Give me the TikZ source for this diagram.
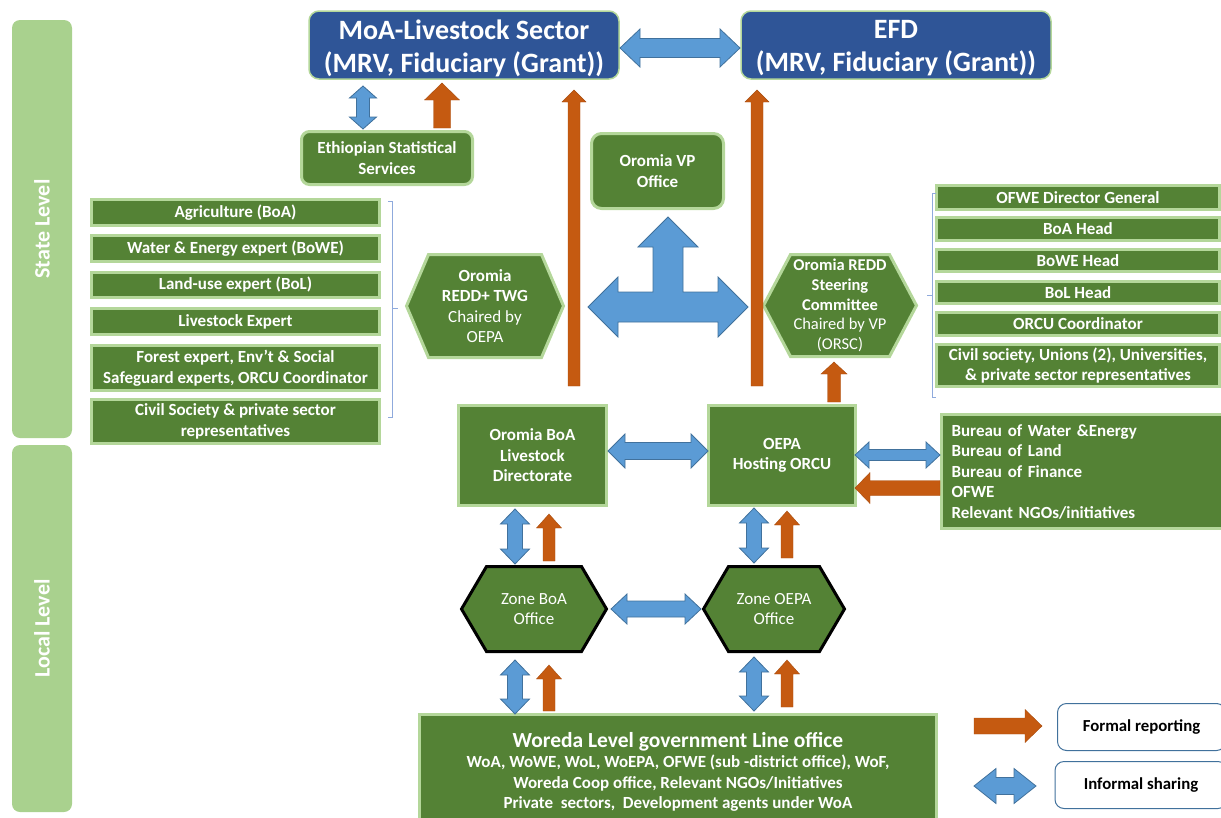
\documentclass[tikz,border=0pt]{standalone}
\usepackage{fontspec}
\setmainfont{Carlito}
\usetikzlibrary{calc}
\definecolor{dgreen}{HTML}{548235}
\definecolor{lgreen}{HTML}{B4D79A}
\definecolor{lvlgreen}{HTML}{A9D18E}
\definecolor{dblue}{HTML}{2F5597}
\definecolor{ablue}{HTML}{5B9BD5}
\definecolor{ablueline}{HTML}{41719C}
\definecolor{aorange}{HTML}{C55A11}
\definecolor{brk}{HTML}{8FAADC}
% single block arrow: style, from, to, shaft half width, head half width, head length
\newcommand\sarrow[6]{%
 \path[#1] let \p1=(#2), \p2=(#3), \n1={atan2(\y2-\y1,\x2-\x1)}, \n2={veclen(\x2-\x1,\y2-\y1)} in
 [shift={(\p1)}, rotate=\n1]
 (0pt,{-(#4)*1pt}) -- ({(\n2-(#6))*1pt},{-(#4)*1pt}) -- ({(\n2-(#6))*1pt},{-(#5)*1pt}) -- ({\n2*1pt},0pt)
 -- ({(\n2-(#6))*1pt},{(#5)*1pt}) -- ({(\n2-(#6))*1pt},{(#4)*1pt}) -- (0pt,{(#4)*1pt}) -- cycle;}
% double block arrow
\newcommand\darrow[6]{%
 \path[#1] let \p1=(#2), \p2=(#3), \n1={atan2(\y2-\y1,\x2-\x1)}, \n2={veclen(\x2-\x1,\y2-\y1)} in
 [shift={(\p1)}, rotate=\n1]
 (0pt,0pt) -- ({(#6)*1pt},{-(#5)*1pt}) -- ({(#6)*1pt},{-(#4)*1pt}) -- ({(\n2-(#6))*1pt},{-(#4)*1pt})
 -- ({(\n2-(#6))*1pt},{-(#5)*1pt}) -- ({\n2*1pt},0pt) -- ({(\n2-(#6))*1pt},{(#5)*1pt})
 -- ({(\n2-(#6))*1pt},{(#4)*1pt}) -- ({(#6)*1pt},{(#4)*1pt}) -- ({(#6)*1pt},{(#5)*1pt}) -- cycle;}
% hexagon: style, cx, cy, half width, half height, inset
\newcommand\hexshape[6]{%
 \draw[#1] (#2-#4,#3) -- (#2-#4+#6,#3-#5) -- (#2+#4-#6,#3-#5) -- (#2+#4,#3)
 -- (#2+#4-#6,#3+#5) -- (#2-#4+#6,#3+#5) -- cycle;}
\begin{document}
\begin{tikzpicture}[x=1pt,y=-1pt,
 gbox/.style={draw=lgreen, line width=3pt, fill=dgreen, text=white,
   font=\bfseries\fontsize{17}{20.5}\selectfont, align=center, inner sep=0pt},
 bbox/.style={draw=lgreen, line width=1.5pt, fill=dblue, rounded corners=10pt, inner sep=0pt,
   minimum width=310pt, minimum height=68pt},
 btext/.style={text=white, font=\bfseries\fontsize{28}{33}\selectfont, align=center, inner sep=0pt},
 listL/.style={gbox, minimum width=288pt},
 listR/.style={gbox, minimum width=283pt},
 hexg/.style={draw=lgreen, line width=3pt, fill=dgreen, line join=miter},
 hexz/.style={draw=black, line width=3pt, fill=dgreen, line join=miter},
 hext/.style={text=white, align=center, font=\fontsize{17}{20.5}\selectfont, inner sep=0pt},
 lvl/.style={fill=lvlgreen, rounded corners=8pt, text=white, font=\bfseries\fontsize{22}{24}\selectfont,
   inner sep=0pt},
 barb/.style={fill=ablue, draw=ablueline, line width=0.8pt, line join=miter},
 baro/.style={fill=aorange, draw=aorange!85!black, line width=0.4pt, line join=miter},
 legbox/.style={draw=ablueline, line width=1pt, rounded corners=9pt, fill=white,
   font=\bfseries\fontsize{16.8}{19}\selectfont, inner sep=0pt},
 brkline/.style={draw=brk, line width=0.8pt}
]
\useasboundingbox (0,0) rectangle (1221,817);
\clip (0,0) rectangle (1221,817);

% level bars
\node[lvl, rotate=90, minimum width=418pt, minimum height=60pt] (state) at (42,229) {State Level};
\node[lvl, rotate=90, minimum width=367pt, minimum height=60pt] (local) at (42,628.5) {Local Level};

% top boxes
\node[bbox] (moa) at (464,45) {};
\node[btext] (moatext) at (464,48) {MoA-Livestock Sector\\(MRV, Fiduciary (Grant))};
\node[bbox] (efd) at (896,45) {};
\node[btext] (efdtext) at (896,48) {EFD\\(MRV, Fiduciary (Grant))};

\node[gbox, rounded corners=8pt, minimum width=171pt, minimum height=53pt] (ess) at (387,158)
  {Ethiopian Statistical\\Services};
\node[gbox, rounded corners=10pt, minimum width=132pt, minimum height=75pt] (vp) at (657.5,171)
  {Oromia VP\\Office};

% left list
\node[listL, minimum height=26pt] (agr) at (235.5,212.5) {Agriculture (BoA)};
\node[listL, minimum height=26pt] (wat) at (235.5,248.5) {Water \& Energy expert (BoWE)};
\node[listL, minimum height=25pt] (lan) at (235.5,285) {Land-use expert (BoL)};
\node[listL, minimum height=26pt] (liv) at (235.5,321.5) {Livestock Expert};
\node[listL, minimum height=45pt] (for) at (235.5,368) {Forest expert, Env’t \& Social\\Safeguard experts, ORCU Coordinator};
\node[listL, minimum height=44pt] (civl) at (235.5,421.5) {Civil Society \& private sector\\representatives};
\draw[brkline] (388,201) -- (392,201) -- (392,417) -- (388,417);
\draw[brkline] (392,308) -- (398,308);

% right list
\node[listR, minimum height=24pt] (ofwe) at (1078,197.5) {OFWE Director General};
\node[listR, minimum height=23pt] (boah) at (1078,229) {BoA Head};
\node[listR, minimum height=22pt] (bowe) at (1078,260.5) {BoWE Head};
\node[listR, minimum height=22pt] (bolh) at (1078,292.5) {BoL Head};
\node[listR, minimum height=23pt] (orcu) at (1078,324) {ORCU Coordinator};
\node[listR, minimum height=42pt] (civr) at (1078,365.5) {Civil society, Unions (2), Universities,\\\& private sector representatives};
\draw[brkline] (936,193) -- (932,193) -- (932,397) -- (936,397);
\draw[brkline] (932,295) -- (927,295);

% hexagons
\hexshape{hexg}{485}{306}{78.5}{51.5}{22}
\node[hext] (twg) at (485,306) {\textbf{Oromia}\\\textbf{REDD+ TWG}\\Chaired by\\OEPA};
\hexshape{hexg}{840}{305.5}{76.5}{51}{27}
\node[hext, font=\fontsize{16.5}{19.7}\selectfont] (orsc) at (840,305.5)
  {\textbf{Oromia REDD}\\\textbf{Steering}\\\textbf{Committee}\\Chaired by VP\\(ORSC)};

% middle boxes
\node[gbox, minimum width=148pt, minimum height=100pt] (boadir) at (532.5,455.5)
  {Oromia BoA\\Livestock\\Directorate};
\node[gbox, minimum width=147pt, minimum height=100pt] (oepa) at (782,455.5)
  {OEPA\\Hosting ORCU};
\node[gbox, minimum width=281pt, minimum height=114pt, align=left, text width=261pt, inner xsep=10pt]
  (bur) at (1082,471.5)
  {Bureau of Water \&Energy\\Bureau of Land\\Bureau of Finance\\OFWE\\Relevant NGOs/initiatives};

% zone hexagons
\hexshape{hexz}{534}{609}{72.5}{42.5}{25}
\node[hext] (zboa) at (534,609) {Zone BoA\\Office};
\hexshape{hexz}{774}{609}{70.5}{42.5}{25}
\node[hext] (zoepa) at (774,609) {Zone OEPA\\Office};

% woreda
\node[gbox, minimum width=517pt, minimum height=116pt, font=\bfseries\fontsize{17}{20.5}\selectfont]
  (wor) at (678,772)
  {{\fontsize{21.5}{22}\selectfont Woreda Level government Line office}\\
   WoA, WoWE, WoL, WoEPA, OFWE (sub -district office), WoF,\\
   Woreda Coop office, Relevant NGOs/Initiatives\\
   Private\ \ sectors,\ \ Development agents under WoA};

% legend
\node[legbox, minimum width=168pt, minimum height=47pt] (lformal) at (1141.5,727) {Formal reporting};
\node[legbox, minimum width=172pt, minimum height=47pt] (linformal) at (1141,785) {Informal sharing};

% ---- arrows ----
\coordinate (moaR) at (620,48);
\coordinate (efdL) at (740,48);
\darrow{barb}{moaR}{efdL}{9.5}{19}{20}

\coordinate (essB1) at (363,129);
\coordinate (moaB1) at (363,86);
\darrow{barb}{essB1}{moaB1}{6.5}{13.5}{12}
\coordinate (essO) at (442,128);
\coordinate (moaO) at (442,83);
\sarrow{baro}{essO}{moaO}{8.5}{17.5}{17}

\coordinate (l1s) at (574,386);
\coordinate (l1e) at (574,90);
\sarrow{baro}{l1s}{l1e}{6}{12}{12}
\coordinate (l2s) at (757,386);
\coordinate (l2e) at (757,90);
\sarrow{baro}{l2s}{l2e}{6}{12}{12}

% three-way arrow
\coordinate (tc) at (668,307);
\draw[barb, shift={(tc)}] (-80,0) -- (-50,-30) -- (-50,-15) -- (-15,-15) -- (-15,-60) -- (-30,-60)
  -- (0,-90) -- (30,-60) -- (15,-60) -- (15,-15) -- (50,-15) -- (50,-30) -- (80,0)
  -- (50,30) -- (50,15) -- (-50,15) -- (-50,30) -- cycle;

\coordinate (oepaT) at (834,402);
\coordinate (orscB) at (834,362);
\sarrow{baro}{oepaT}{orscB}{6.5}{13}{12}

\coordinate (bdR) at (608,451);
\coordinate (oeL) at (708,451);
\darrow{barb}{bdR}{oeL}{8.5}{17}{17}

\coordinate (oeR) at (855,455);
\coordinate (buL) at (940,455);
\darrow{barb}{oeR}{buL}{5.5}{13}{14}
\coordinate (buL2) at (940,488);
\coordinate (oeR2) at (855,488);
\sarrow{baro}{buL2}{oeR2}{7.5}{15.5}{15}

\coordinate (bdB) at (515,509);
\coordinate (zbT) at (515,564);
\darrow{barb}{bdB}{zbT}{7.5}{14.5}{15}
\coordinate (zbTo) at (549,561);
\coordinate (bdBo) at (549,514);
\sarrow{baro}{zbTo}{bdBo}{6}{12.5}{14}

\coordinate (oeB) at (754,508);
\coordinate (zoT) at (754,563);
\darrow{barb}{oeB}{zoT}{7.5}{14.5}{15}
\coordinate (zoTo) at (787,558);
\coordinate (oeBo) at (787,511);
\sarrow{baro}{zoTo}{oeBo}{6}{12.5}{14}

\coordinate (zbR) at (611,609);
\coordinate (zoL) at (701,609);
\darrow{barb}{zbR}{zoL}{8}{15}{16}

\coordinate (zbB) at (515,660);
\coordinate (woT1) at (515,714);
\darrow{barb}{zbB}{woT1}{7.5}{14.5}{15}
\coordinate (woT1o) at (549,711);
\coordinate (zbBo) at (549,665);
\sarrow{baro}{woT1o}{zbBo}{6}{12.5}{14}

\coordinate (zoB) at (754,657);
\coordinate (woT2) at (754,711);
\darrow{barb}{zoB}{woT2}{7.5}{14.5}{15}
\coordinate (woT2o) at (787,707);
\coordinate (zoBo) at (787,660);
\sarrow{baro}{woT2o}{zoBo}{6}{12.5}{14}

% legend arrows
\coordinate (lo1) at (974,726);
\coordinate (lo2) at (1042,726);
\sarrow{baro}{lo1}{lo2}{8}{16.5}{17}
\coordinate (lb1) at (974,786);
\coordinate (lb2) at (1036,786);
\darrow{barb}{lb1}{lb2}{8.5}{17.5}{22}
\end{tikzpicture}
\end{document}
